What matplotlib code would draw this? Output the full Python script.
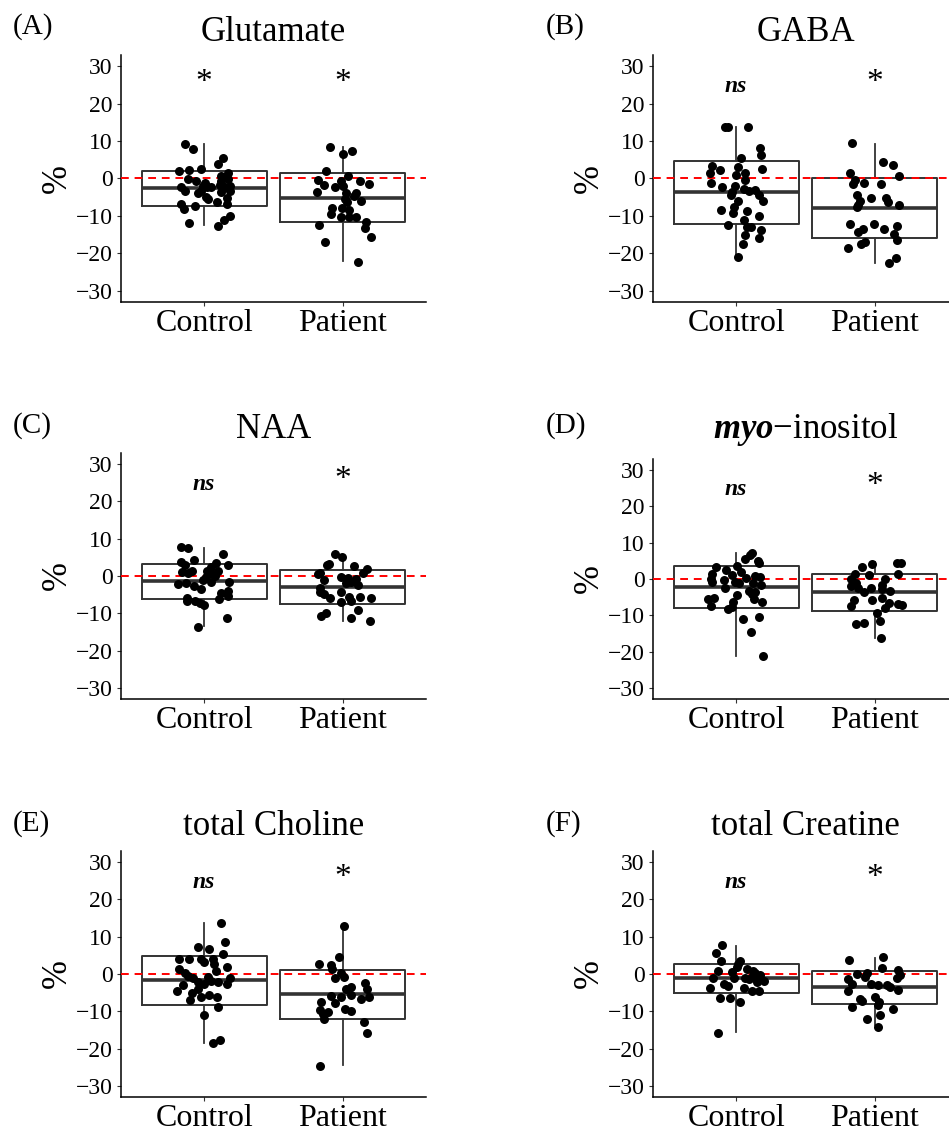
import matplotlib
matplotlib.use("Agg")
import matplotlib.pyplot as plt

plt.rcParams['font.family'] = ['Liberation Serif', 'DejaVu Serif']
plt.rcParams['mathtext.fontset'] = 'custom'
plt.rcParams['mathtext.rm'] = 'Liberation Serif'
plt.rcParams['mathtext.bfit'] = 'Liberation Serif:bold:italic'

groups = ['Control', 'Patient']
titles = ['Glutamate', 'GABA', 'NAA', r'$\mathbfit{myo}$' + '\u2212inositol',
          'total Choline', 'total Creatine']
letters = ['(A)', '(B)', '(C)', '(D)', '(E)', '(F)']
signif_ctrl = ['*', 'ns', 'ns', 'ns', 'ns', 'ns']
signif_pat = ['*', '*', '*', '*', '*', '*']

# box stats: [whisker low, q1, median, q3, whisker high]
glu_ctrl_box = [-12.5, -7.3, -2.6, 2.1, 9.2]
glu_pat_box = [-22.1, -11.6, -5.2, 1.5, 8.5]
gaba_ctrl_box = [-21.0, -12.1, -3.5, 4.7, 13.7]
gaba_pat_box = [-22.5, -15.8, -7.9, 0.1, 9.3]
naa_ctrl_box = [-13.5, -6.1, -1.4, 3.1, 7.6]
naa_pat_box = [-12.0, -7.5, -3.0, 1.7, 5.3]
ins_ctrl_box = [-21.2, -8.1, -2.3, 3.5, 7.2]
ins_pat_box = [-16.1, -8.7, -3.6, 1.5, 4.7]
cho_ctrl_box = [-18.4, -8.2, -1.6, 4.8, 13.6]
cho_pat_box = [-24.4, -12.1, -5.4, 1.2, 13.0]
cr_ctrl_box = [-15.5, -5.2, -1.2, 2.6, 7.5]
cr_pat_box = [-13.8, -8.1, -3.6, 0.8, 4.3]

# individual subjects: value (%) and horizontal jitter
glu_ctrl_y = [9.2, 7.9, 5.6, 3.8, 2.0, 2.4, 2.5, 1.4, 0.6, -0.2, -0.8, -1.1, -0.6, -2.0, -2.4,
              -3.3, -3.3, -2.4, -3.9, -3.5, -3.3, -2.4, -4.9, -5.6, -5.1, -6.7, -8.1, -7.3,
              -6.2, -6.7, -11.9, -12.8, -11.0, -10.1, -1.7, -2.2, -0.2, -1.9]
glu_ctrl_dx = [-0.137, -0.082, 0.137, 0.103, -0.182, -0.110, -0.024, 0.170, 0.122, -0.118,
               -0.058, 0.007, 0.118, 0.189, -0.165, -0.141, -0.026, 0.022, -0.041, 0.122,
               0.187, 0.151, 0.010, 0.026, 0.165, -0.165, -0.146, -0.065, 0.094, 0.165,
               -0.108, 0.103, 0.141, 0.189, 0.113, 0.050, 0.170, -0.012]
glu_pat_y = [8.5, 6.5, 7.4, 2.1, 0.6, -0.4, -1.7, -2.3, -0.8, -2.0, -0.6, -1.4, -3.5, -4.0,
             -3.8, -4.6, -5.5, -6.4, -6.0, -7.8, -9.4, -7.8, -8.5, -10.3, -10.3, -10.3,
             -11.5, -13.1, -12.4, -15.5, -17.0, -22.2]
glu_pat_dx = [-0.091, 0.002, 0.065, -0.122, 0.034, -0.182, -0.134, -0.058, -0.014, -0.002,
              0.125, 0.187, -0.187, 0.024, 0.094, 0.082, 0.014, 0.029, 0.130, -0.077,
              -0.082, -0.005, 0.048, -0.010, 0.043, 0.094, 0.168, 0.161, -0.173, 0.201,
              -0.130, 0.106]

gaba_ctrl_y = [13.8, 13.8, 13.8, 8.2, 6.2, 5.6, 2.5, 3.3, 1.5, 2.2, 3.1, 0.9, 1.6, -0.4, -1.3,
               -2.4, -1.9, -2.9, -3.4, -3.1, -4.5, -5.9, -4.4, -5.9, -7.7, -9.3, -8.3, -8.7,
               -9.9, -11.2, -12.5, -13.0, -13.0, -13.7, -15.8, -15.2, -17.6, -21.1, -3.7]
gaba_ctrl_dx = [-0.081, -0.062, 0.086, 0.170, 0.177, 0.038, 0.187, -0.173, -0.192, -0.118,
                0.010, 0.002, 0.067, 0.067, -0.182, -0.101, -0.005, 0.058, 0.091, 0.139,
                0.168, 0.197, -0.034, 0.010, -0.014, -0.024, -0.113, 0.079, 0.165, 0.053,
                -0.062, 0.077, 0.110, 0.180, 0.168, 0.062, 0.048, 0.012, -0.029]
gaba_pat_y = [9.5, 4.5, 3.7, 0.7, 1.5, -0.4, -1.5, -1.1, -1.5, -4.4, -5.9, -5.2, -5.2, -6.2,
              -7.7, -7.0, -7.1, -12.2, -13.5, -14.4, -12.1, -13.4, -12.7, -14.7, -16.4,
              -16.9, -17.4, -18.7, -21.2, -22.5]
gaba_pat_dx = [-0.165, 0.062, 0.134, 0.173, -0.182, -0.146, -0.158, -0.079, 0.048, -0.130,
               -0.108, -0.026, 0.079, 0.094, -0.132, -0.122, 0.177, -0.182, -0.084, -0.122,
               -0.005, 0.067, 0.158, 0.139, 0.161, -0.070, -0.103, -0.197, 0.151, 0.103]

naa_ctrl_y = [7.8, 7.6, 6.0, 4.3, 3.8, 2.9, 3.4, 2.5, 2.9, 1.2, 0.9, 1.4, 1.4, 0.9, 1.4, 0.0,
              -2.1, -2.0, -2.7, -1.2, -1.5, -3.6, -1.6, -3.9, -4.6, -5.3, -6.2, -6.0, -6.8,
              -6.7, -7.3, -7.9, -11.4, -13.6, -0.2]
naa_ctrl_dx = [-0.170, -0.118, 0.137, -0.070, -0.170, -0.141, 0.082, 0.046, 0.175, -0.161,
               -0.118, -0.089, 0.022, 0.050, 0.103, 0.079, -0.189, -0.130, -0.074, -0.012,
               0.046, -0.022, 0.180, 0.175, 0.122, 0.175, 0.108, -0.127, -0.127, -0.065,
               -0.031, -0.002, 0.161, -0.041, 0.014]
naa_pat_y = [5.9, 5.2, 3.2, 3.0, 2.7, 1.8, 0.9, 0.7, 0.5, -1.1, -0.2, -0.6, -1.5, -0.9, -2.4,
             -2.0, -3.3, -4.3, -4.8, -6.0, -4.4, -5.5, -6.6, -5.5, -6.0, -7.1, -9.2, -9.8,
             -10.8, -11.4, -12.2]
naa_pat_dx = [-0.058, -0.005, -0.098, -0.115, 0.082, 0.173, 0.142, -0.168, -0.182, -0.134,
              -0.014, 0.034, 0.058, 0.094, 0.106, 0.024, -0.163, -0.168, -0.139, -0.091,
              -0.010, 0.048, 0.058, 0.125, 0.201, -0.014, 0.106, -0.120, -0.158, 0.062, 0.194]

ins_ctrl_y = [7.2, 6.5, 5.4, 4.4, 5.0, 3.2, 2.6, 3.5, 2.0, 1.4, 1.2, 0.2, 0.8, 0.6, -0.8, -0.3,
              -0.8, -1.2, -1.2, -1.6, -2.5, -3.2, -4.1, -3.7, -5.5, -6.4, -4.3, -6.4, -5.5,
              -5.2, -7.5, -8.2, -7.7, -11.1, -10.4, -14.5, -21.3, 0.1]
ins_ctrl_dx = [0.115, 0.098, 0.067, 0.163, 0.158, -0.144, -0.074, 0.007, 0.038, -0.177,
               -0.029, 0.072, 0.139, 0.175, -0.173, -0.089, -0.010, 0.019, 0.120, 0.180,
               -0.082, 0.091, 0.115, 0.139, 0.132, 0.187, 0.007, -0.022, -0.201, -0.158,
               -0.185, -0.058, -0.029, 0.048, 0.163, 0.110, 0.197, -0.185]
ins_pat_y = [4.4, 4.4, 4.2, 3.2, 1.4, 1.4, 1.0, -0.1, -0.1, -1.0, -1.9, -2.4, -3.5, -2.6, -1.7,
             -2.8, -3.2, -5.7, -5.9, -5.3, -6.6, -7.9, -6.8, -7.1, -7.5, -9.3, -12.4, -12.0,
             -11.6, -16.1]
ins_pat_dx = [0.158, 0.189, -0.022, -0.089, 0.165, -0.146, -0.041, 0.074, -0.175, -0.137,
              -0.170, -0.118, -0.079, -0.031, 0.055, 0.050, 0.108, -0.149, -0.022, 0.050,
              0.103, 0.074, 0.170, 0.194, -0.175, 0.014, -0.137, -0.079, 0.036, 0.046]

cho_ctrl_y = [13.7, 8.7, 7.2, 6.8, 5.5, 4.1, 3.9, 4.1, 3.2, 4.1, 2.8, 2.0, 1.4, 0.4, 0.7, -0.5,
              -1.2, -2.1, -0.8, -1.8, -2.1, -1.2, -2.6, -3.0, -4.5, -5.0, -4.1, -6.1, -5.7,
              -6.3, -7.0, -8.8, -11.1, -17.7, -18.4, -2.6]
cho_ctrl_dx = [0.118, 0.153, -0.041, 0.034, 0.134, -0.180, -0.106, -0.026, -0.002, 0.062,
               0.070, 0.165, -0.185, -0.141, 0.084, -0.118, -0.079, -0.046, 0.026, 0.046,
               0.098, 0.189, 0.161, -0.151, -0.197, -0.089, -0.041, -0.022, 0.038, 0.089,
               -0.103, 0.103, 0.002, 0.113, 0.065, 0.002]
cho_pat_y = [13.0, 4.5, 2.6, 2.5, 1.4, 0.4, -1.1, -0.9, -2.3, -3.5, -4.1, -4.1, -5.7, -5.9,
             -6.2, -6.8, -6.2, -7.7, -7.5, -9.5, -9.8, -9.7, -10.6, -10.3, -12.1, -12.8,
             -15.7, -24.6]
cho_pat_dx = [0.005, -0.026, -0.170, -0.082, -0.077, -0.014, -0.053, 0.010, 0.163, 0.058,
              0.024, 0.173, 0.058, -0.082, -0.014, 0.134, 0.192, -0.058, -0.158, 0.014,
              0.058, -0.168, -0.146, -0.106, -0.134, 0.153, 0.177, -0.168]

cr_ctrl_y = [7.8, 5.6, 3.4, 3.6, 2.7, 1.9, 0.8, 0.5, 1.4, 0.9, 0.4, -0.2, -1.2, -1.1, -1.2,
             -0.8, -2.1, -1.9, -3.1, -3.8, -3.8, -4.6, -4.6, -6.5, -6.5, -7.5, -15.7, -1.4,
             -2.6]
cr_ctrl_dx = [-0.101, -0.149, -0.106, 0.024, 0.014, 0.007, -0.134, -0.029, 0.077, 0.120,
              0.139, 0.175, -0.168, -0.019, 0.062, 0.115, 0.149, 0.201, -0.058, -0.192,
              0.053, 0.115, 0.168, -0.120, -0.043, 0.024, -0.134, 0.091, -0.089]
cr_pat_y = [3.8, 4.6, 1.7, 1.2, -0.3, -1.0, 0.1, 0.4, -0.9, -1.4, -2.6, -2.7, -3.0, -3.5,
            -4.3, -4.6, -6.8, -7.3, -6.2, -7.5, -8.2, -8.8, -9.3, -10.9, -12.1, -14.1, -3.0]
cr_pat_dx = [-0.185, 0.062, 0.050, 0.165, 0.182, 0.158, -0.132, -0.060, -0.070, -0.194,
             -0.165, -0.026, 0.089, 0.113, 0.170, -0.194, -0.108, -0.089, -0.002, 0.031,
             0.022, -0.165, 0.134, 0.036, -0.060, 0.026, 0.026]

panels = [
    (glu_ctrl_box, glu_pat_box, glu_ctrl_y, glu_ctrl_dx, glu_pat_y, glu_pat_dx),
    (gaba_ctrl_box, gaba_pat_box, gaba_ctrl_y, gaba_ctrl_dx, gaba_pat_y, gaba_pat_dx),
    (naa_ctrl_box, naa_pat_box, naa_ctrl_y, naa_ctrl_dx, naa_pat_y, naa_pat_dx),
    (ins_ctrl_box, ins_pat_box, ins_ctrl_y, ins_ctrl_dx, ins_pat_y, ins_pat_dx),
    (cho_ctrl_box, cho_pat_box, cho_ctrl_y, cho_ctrl_dx, cho_pat_y, cho_pat_dx),
    (cr_ctrl_box, cr_pat_box, cr_ctrl_y, cr_ctrl_dx, cr_pat_y, cr_pat_dx),
]

W, H = 949, 1131
fig = plt.figure(figsize=(W / 100, H / 100), dpi=100)

# axes boxes in pixels: left, top, bottom
ax_px = [(121, 55, 302), (653, 55, 302), (121, 453, 699), (653, 459, 699),
         (121, 851, 1097), (653, 851, 1097)]
title_base = [41, 41, 438, 438, 835, 835]
letter_x = [13, 546, 13, 546, 13, 546]
letter_base = [34, 34, 433, 433, 831, 831]
ax_w = 305

def box_stats(b, label):
    return dict(whislo=b[0], q1=b[1], med=b[2], q3=b[3], whishi=b[4], label=label)

for i, (cb, pb, cy, cdx, py, pdx) in enumerate(panels):
    left, top, bottom = ax_px[i]
    ax = fig.add_axes([left / W, 1 - bottom / H, ax_w / W, (bottom - top) / H])
    ax.bxp([box_stats(cb, groups[0]), box_stats(pb, groups[1])], positions=[1, 2],
           widths=0.9, showfliers=False, showcaps=False,
           boxprops=dict(color='#333333', lw=1.4),
           whiskerprops=dict(color='#333333', lw=1.3),
           medianprops=dict(color='#333333', lw=2.6))
    ax.axhline(0, color='red', lw=1.4, ls=(0, (4, 3)), zorder=3)
    ax.scatter([1 + d for d in cdx], cy, s=42, color='black', linewidths=0, zorder=4)
    ax.scatter([2 + d for d in pdx], py, s=42, color='black', linewidths=0, zorder=4)

    if signif_ctrl[i] == '*':
        ax.text(1, 23.5, '*', ha='center', va='baseline', fontsize=24)
    else:
        ax.text(1, 23, 'ns', ha='center', va='baseline', fontsize=17,
                fontstyle='italic', fontweight='bold')
    ax.text(2, 23.5, signif_pat[i], ha='center', va='baseline', fontsize=24)

    ax.set_xlim(0.4, 2.6)
    ax.set_ylim(-33, 33)
    ax.set_yticks([-30, -20, -10, 0, 10, 20, 30])
    ax.set_xticks([1, 2])
    ax.set_xticklabels(groups, fontsize=23)
    ax.tick_params(axis='y', labelsize=17, length=3, pad=3, color='#333333')
    ax.tick_params(axis='x', length=3, pad=2, color='#333333')
    ax.set_ylabel('%', fontsize=25, labelpad=1)
    for s in ['top', 'right']:
        ax.spines[s].set_visible(False)
    for s in ['left', 'bottom']:
        ax.spines[s].set_linewidth(1.1)

    fig.text((left + ax_w / 2) / W, 1 - title_base[i] / H, titles[i], ha='center',
             va='baseline', fontsize=25)
    fig.text(letter_x[i] / W, 1 - letter_base[i] / H, letters[i], ha='left',
             va='baseline', fontsize=21)

fig.savefig('out.png', dpi=100)
